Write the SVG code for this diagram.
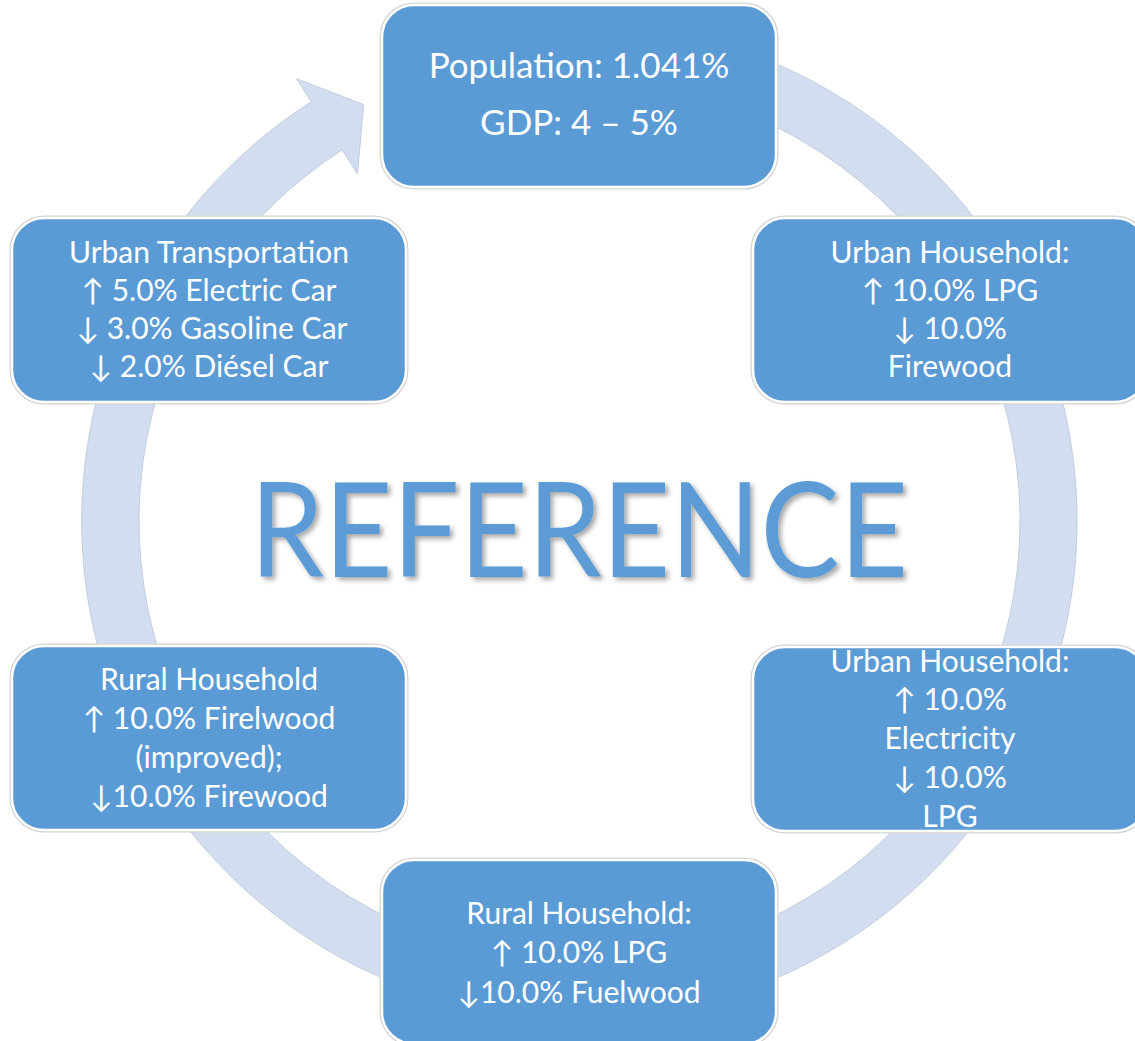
<svg xmlns="http://www.w3.org/2000/svg" width="1135" height="1041" viewBox="0 0 1135 1041">
  <style>
    .node rect.edge { fill: none; stroke: #d4d4d4; stroke-width: 5; }
    .node rect.box { fill: #5b9bd5; stroke: #ffffff; stroke-width: 2.5; }
    .node text { fill: #ffffff; font-family: Lato, "Noto Sans", "DejaVu Sans", sans-serif; font-size: 30px; text-anchor: middle; }
    .node text.big { font-size: 35px; }
    .ring { fill: #d2deef; stroke: #b9c5d8; stroke-width: 0.8; }
    .mark { fill: #5b9bd5; font-family: Lato, "Noto Sans", sans-serif; font-size: 131px; }
  </style>
  <defs>
    <filter id="soft" x="-5%" y="-20%" width="110%" height="140%">
      <feDropShadow dx="3" dy="3" stdDeviation="2.5" flood-color="#000000" flood-opacity="0.35"/>
    </filter>
  </defs>
  <rect width="1135" height="1041" fill="#ffffff"/>

  <!-- circular cycle arrow running clockwise behind the boxes -->
  <g id="connectors">
    <path class="ring" d="M 665.9 30.9 A 497.7 497.7 0 1 1 311.3 101.7 L 296.6 78.7 L 363.7 104.6 L 357.5 173.9 L 342.2 149.9 A 440.5 440.5 0 1 0 656.0 87.2 Z"/>
  </g>

  <text class="mark" x="250" y="577" textLength="658" lengthAdjust="spacingAndGlyphs" filter="url(#soft)">REFERENCE</text>

  <g id="node-growth" class="node">
    <rect class="edge" x="382" y="5" width="394" height="182" rx="32"/>
    <rect class="box" x="382" y="5" width="394" height="182" rx="32"/>
    <text class="big" x="579" y="78">Population: 1.041%</text>
    <text class="big" x="579" y="135">GDP: 4 – 5%</text>
  </g>

  <g id="node-urban-lpg" class="node">
    <rect class="edge" x="753" y="218" width="394" height="184" rx="32"/>
    <rect class="box" x="753" y="218" width="394" height="184" rx="32"/>
    <text x="950" y="263">Urban Household:</text>
    <text x="950" y="301">↑ 10.0% LPG</text>
    <text x="950" y="339">↓ 10.0%</text>
    <text x="950" y="377">Firewood</text>
  </g>

  <g id="node-urban-electricity" class="node">
    <rect class="edge" x="753" y="647" width="394" height="184" rx="32"/>
    <rect class="box" x="753" y="647" width="394" height="184" rx="32"/>
    <text x="950" y="672">Urban Household:</text>
    <text x="950" y="710">↑ 10.0%</text>
    <text x="950" y="749">Electricity</text>
    <text x="950" y="788">↓ 10.0%</text>
    <text x="950" y="827">LPG</text>
  </g>

  <g id="node-rural-lpg" class="node">
    <rect class="edge" x="382" y="860" width="394" height="184" rx="32"/>
    <rect class="box" x="382" y="860" width="394" height="184" rx="32"/>
    <text x="579" y="924">Rural Household:</text>
    <text x="579" y="963">↑ 10.0% LPG</text>
    <text x="579" y="1003">↓10.0% Fuelwood</text>
  </g>

  <g id="node-rural-firewood" class="node">
    <rect class="edge" x="12" y="646" width="394" height="184" rx="32"/>
    <rect class="box" x="12" y="646" width="394" height="184" rx="32"/>
    <text x="209" y="690">Rural Household</text>
    <text x="209" y="729">↑ 10.0% Firelwood</text>
    <text x="209" y="768">(improved);</text>
    <text x="209" y="807">↓10.0% Firewood</text>
  </g>

  <g id="node-transport" class="node">
    <rect class="edge" x="12" y="218" width="394" height="184" rx="32"/>
    <rect class="box" x="12" y="218" width="394" height="184" rx="32"/>
    <text x="209" y="263">Urban Transportation</text>
    <text x="209" y="301">↑ 5.0% Electric Car</text>
    <text x="212" y="339">↓ 3.0% Gasoline Car</text>
    <text x="209" y="377">↓ 2.0% Diésel Car</text>
  </g>
</svg>
